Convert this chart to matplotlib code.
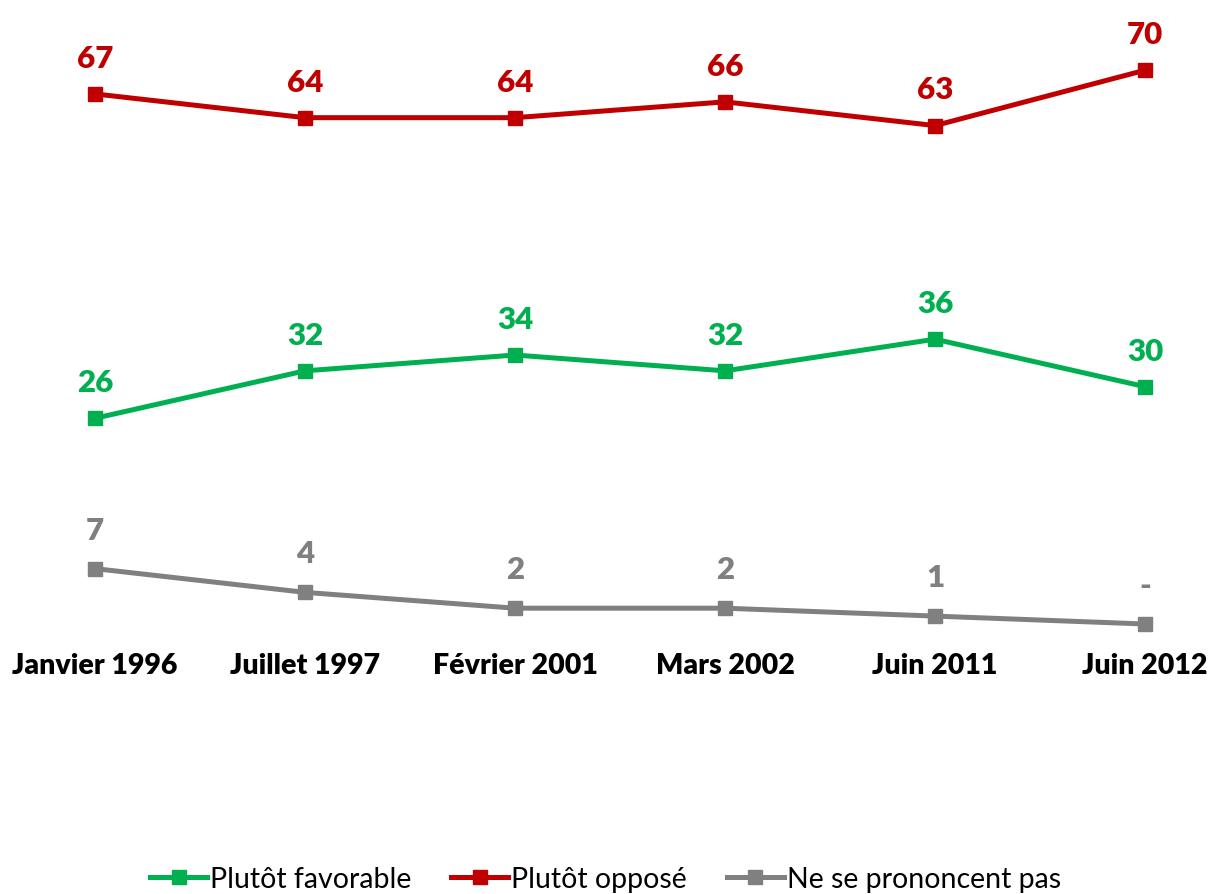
import matplotlib
matplotlib.use('Agg')
import matplotlib.pyplot as plt

plt.rcParams['font.family'] = ['Lato', 'DejaVu Sans']

periodes = ['Janvier 1996', 'Juillet 1997', 'Février 2001', 'Mars 2002', 'Juin 2011', 'Juin 2012']
favorable = [26, 32, 34, 32, 36, 30]
oppose = [67, 64, 64, 66, 63, 70]
nsp = [7, 4, 2, 2, 1, 0]
nsp_labels = ['7', '4', '2', '2', '1', '-']

vert = '#00B050'
rouge = '#C00000'
gris = '#808080'

fig = plt.figure(figsize=(12.11, 8.95), dpi=100)
ax = fig.add_axes([0, 0.2793, 1, 0.7207])

x = range(len(periodes))
ax.plot(x, favorable, color=vert, lw=3.6, marker='s', ms=10, label='Plutôt favorable')
ax.plot(x, oppose, color=rouge, lw=3.6, marker='s', ms=10, label='Plutôt opposé')
ax.plot(x, nsp, color=gris, lw=3.6, marker='s', ms=10, label='Ne se prononcent pas')

# valeurs au-dessus des points
for i in x:
    ax.annotate(str(favorable[i]), (i, favorable[i]), xytext=(0, 26), textcoords='offset points',
                ha='center', va='center', color=vert, fontsize=22.5, fontweight='heavy')
    ax.annotate(str(oppose[i]), (i, oppose[i]), xytext=(0, 26), textcoords='offset points',
                ha='center', va='center', color=rouge, fontsize=22.5, fontweight='heavy')
    ax.annotate(nsp_labels[i], (i, nsp[i]), xytext=(0, 28), textcoords='offset points',
                ha='center', va='center', color=gris, fontsize=22.5, fontweight='heavy')

ax.set_xlim(-0.452, 5.314)
ax.set_ylim(-2.53, 79.0)
ax.set_xticks(list(x))
ax.set_xticklabels(periodes, fontsize=20.5, fontweight='heavy')
ax.tick_params(axis='x', length=0, pad=6)
ax.set_yticks([])
for s in ax.spines.values():
    s.set_visible(False)

fig.legend(loc='center', bbox_to_anchor=(0.5, 0.017), ncol=3, frameon=False, fontsize=20.5,
           handlelength=2.0, handletextpad=0.1, columnspacing=1.4, borderaxespad=0)

fig.savefig('out.png', dpi=100)
